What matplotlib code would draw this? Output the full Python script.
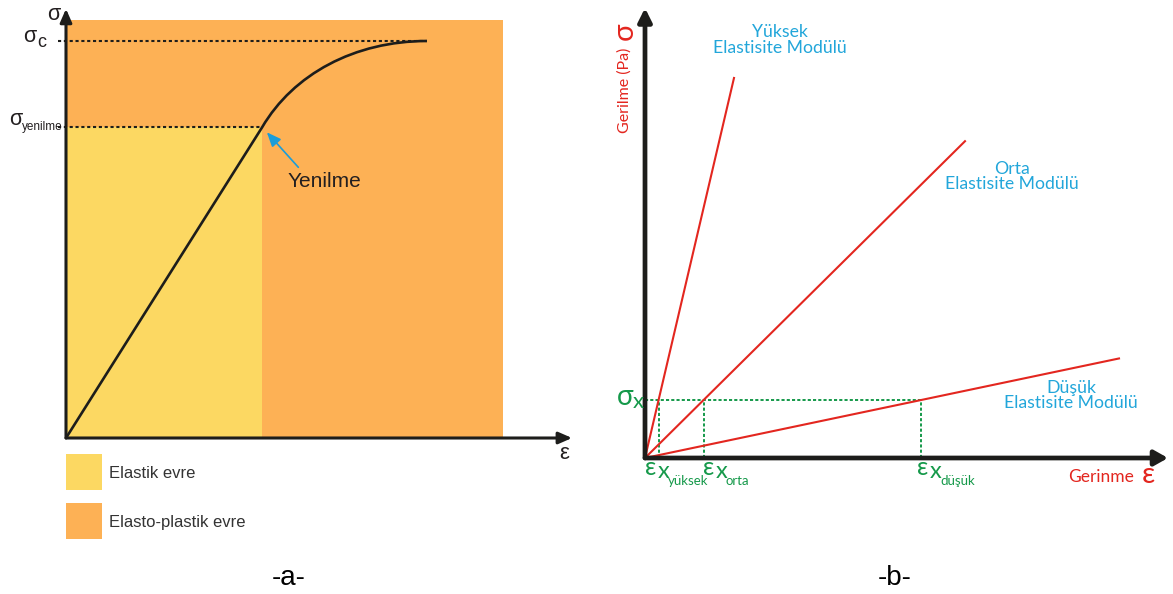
"""Stress-strain sketch: yield zones (a) and elastic moduli comparison (b)."""

import matplotlib.pyplot as plt
from matplotlib.patches import PathPatch, Rectangle
from matplotlib.path import Path

# -a- strain normalised to the end of the plastic zone, stress to sigma_c
eps_yield, sigma_yield = 0.449, 0.783
eps_c, sigma_c = 0.826, 1.0
hardening_ctrl = [(0.52, 0.916), (0.66, 1.0)]
zone_eps_end = 1.0
zone_sigma_top = 1.053
axis_a_end = (1.158, 1.081)
zone_labels = ["Elastik evre", "Elasto-plastik evre"]
zone_colors = ["#FCD862", "#FDB155"]

# -b- three materials loaded to the same stress sigma_x
modulus_names = ["Yüksek", "Orta", "Düşük"]
modulus_subs = ["yüksek", "orta", "düşük"]
moduli = [4.27, 0.99, 0.21]
line_eps_end = [0.89, 3.20, 4.74]
sigma_x = 0.58
axis_b_end = (5.23, 4.50)

INK = "#1d1d1b"
RED = "#E3261F"
BLUE = "#22A6DA"
GREEN = "#15994A"
FONT_A = ["Liberation Sans", "DejaVu Sans"]
FONT_B = ["Lato", "DejaVu Sans"]


def axis_arrow(ax, end, lw, head):
    style = f"-|>,head_length={head[0]},head_width={head[1]}"
    ax.annotate("", xy=end, xytext=(0, 0), annotation_clip=False,
                arrowprops=dict(arrowstyle=style, lw=lw, color=INK, shrinkA=0,
                                shrinkB=0, mutation_scale=10))


def put(ax, text, xy, offset, **kw):
    return ax.annotate(text, xy=xy, xytext=offset, textcoords="offset pixels",
                       annotation_clip=False, **kw)


fig = plt.figure(figsize=(11.73, 5.94), dpi=100)

# ---------------- -a- ----------------
ax_a = fig.add_axes([0, 0, 590 / 1173, 1])
ax_a.set_xlim(-66 / 437, 524 / 437)
ax_a.set_ylim(-156 / 397, 438 / 397)
ax_a.axis("off")

ax_a.add_patch(Rectangle((0, 0), zone_eps_end, zone_sigma_top, fc=zone_colors[1], ec="none"))
ax_a.add_patch(Rectangle((0, 0), eps_yield, sigma_yield, fc=zone_colors[0], ec="none"))

dotted = dict(color=INK, lw=1.5, ls=(0, (1.5, 1.3)))
ax_a.plot([-0.018, eps_c], [sigma_c, sigma_c], **dotted)
ax_a.plot([-0.018, eps_yield], [sigma_yield, sigma_yield], **dotted)

verts = [(0, 0), (eps_yield, sigma_yield), *hardening_ctrl, (eps_c, sigma_c)]
codes = [Path.MOVETO, Path.LINETO, Path.CURVE4, Path.CURVE4, Path.CURVE4]
ax_a.add_patch(PathPatch(Path(verts, codes), fill=False, ec=INK, lw=1.9))

axis_arrow(ax_a, (0, axis_a_end[1]), 2.2, (0.8, 0.35))
axis_arrow(ax_a, (axis_a_end[0], 0), 2.2, (0.8, 0.35))

ax_a.annotate("Yenilme", xy=(eps_yield, sigma_yield), xytext=(25, -60),
              textcoords="offset pixels", ha="left", va="baseline", fontsize=15,
              family=FONT_A, color="#231F20",
              arrowprops=dict(arrowstyle="-|>,head_length=0.86,head_width=0.36",
                              color="#1B9DD9", lw=1.2, relpos=(0.21, 1.0),
                              shrinkA=2, shrinkB=5, mutation_scale=10))

txt_a = dict(family=FONT_A, color="#231F20")
put(ax_a, "σ", (0, axis_a_end[1]), (-12, -11), ha="center", va="baseline", fontsize=15.5, **txt_a)
put(ax_a, "σ", (0, sigma_c), (-30, -1), ha="right", va="baseline", fontsize=15.5, **txt_a)
put(ax_a, "c", (0, sigma_c), (-29, -6), ha="left", va="baseline", fontsize=13, **txt_a)
put(ax_a, "σ", (0, sigma_yield), (-44, 2), ha="right", va="baseline", fontsize=15.5, **txt_a)
put(ax_a, "yenilme", (0, sigma_yield), (-44, -3), ha="left", va="baseline", fontsize=8.5, **txt_a)
put(ax_a, "ε", (axis_a_end[0], 0), (-8, -21), ha="center", va="baseline", fontsize=16, **txt_a)

# zone legend, laid out in figure inches
for i, (label, color) in enumerate(zip(zone_labels, zone_colors)):
    top = 4.54 + 0.49 * i
    fig.add_artist(Rectangle((0.66, 5.94 - top - 0.36), 0.36, 0.36,
                             transform=fig.dpi_scale_trans, fc=color, ec="none"))
    fig.text(1.09, 5.94 - top - 0.24, label, transform=fig.dpi_scale_trans,
             ha="left", va="baseline", fontsize=12, family=FONT_A, color="#333333")

fig.text(289 / 1173, 9 / 594, "-a-", ha="center", va="baseline", fontsize=20, family=FONT_A)

# ---------------- -b- ----------------
ax_b = fig.add_axes([590 / 1173, 0, 583 / 1173, 1])
ax_b.set_xlim(-0.55, 5.28)
ax_b.set_ylim(-1.36, 4.58)
ax_b.axis("off")

eps_x = [sigma_x / E for E in moduli]
green_dots = dict(color=GREEN, lw=1.4, ls=(0, (1.6, 1.1)))
ax_b.plot([0, max(eps_x)], [sigma_x, sigma_x], **green_dots)
for e in eps_x:
    ax_b.plot([e, e], [0, sigma_x], **green_dots)

for E, end in zip(moduli, line_eps_end):
    ax_b.plot([0, end], [0, E * end], color=RED, lw=1.5)

axis_arrow(ax_b, (0, axis_b_end[1]), 3.4, (0.8, 0.4))
axis_arrow(ax_b, (axis_b_end[0], 0), 3.4, (0.8, 0.45))

name_offsets = [(46, 38), (47, -35), (-48, -37)]
for name, E, end, off in zip(modulus_names, moduli, line_eps_end, name_offsets):
    put(ax_b, f"{name}\nElastisite Modülü", (end, E * end), off, ha="center",
        va="center", multialignment="center", linespacing=0.95, fontsize=12.7,
        family=FONT_B, color=BLUE)

txt_g = dict(family=FONT_B, color=GREEN, ha="left", va="baseline")
label_shift = [-14, -1, -4]
for e, sub, shift in zip(eps_x, modulus_subs, label_shift):
    put(ax_b, "ε", (e, 0), (shift, -17), fontsize=18, **txt_g)
    put(ax_b, "x", (e, 0), (shift + 13, -20), fontsize=17, **txt_g)
    put(ax_b, sub, (e, 0), (shift + 23, -27), fontsize=9.5, **txt_g)

put(ax_b, "σ", (0, sigma_x), (-12, -5), family=FONT_B, color=GREEN, ha="right",
    va="baseline", fontsize=20)
put(ax_b, "x", (0, sigma_x), (-12, -8), fontsize=16, **txt_g)

put(ax_b, "Gerilme (Pa)", (0, axis_b_end[1]), (-20, -125), rotation=90, ha="center",
    va="bottom", fontsize=11.5, family=FONT_B, color=RED)
put(ax_b, "σ", (0, axis_b_end[1]), (-20, -23), rotation=90, ha="center", va="center",
    fontsize=21, family=FONT_B, color=RED)

put(ax_b, "Gerinme", (axis_b_end[0], 0), (-100, -24), ha="left", va="baseline",
    fontsize=12.5, family=FONT_B, color=RED)
put(ax_b, "ε", (axis_b_end[0], 0), (-26, -25), ha="left", va="baseline",
    fontsize=21, family=FONT_B, color=RED)

fig.text(895 / 1173, 9 / 594, "-b-", ha="center", va="baseline", fontsize=20, family=FONT_A)

fig.savefig("out.png", dpi=100)
